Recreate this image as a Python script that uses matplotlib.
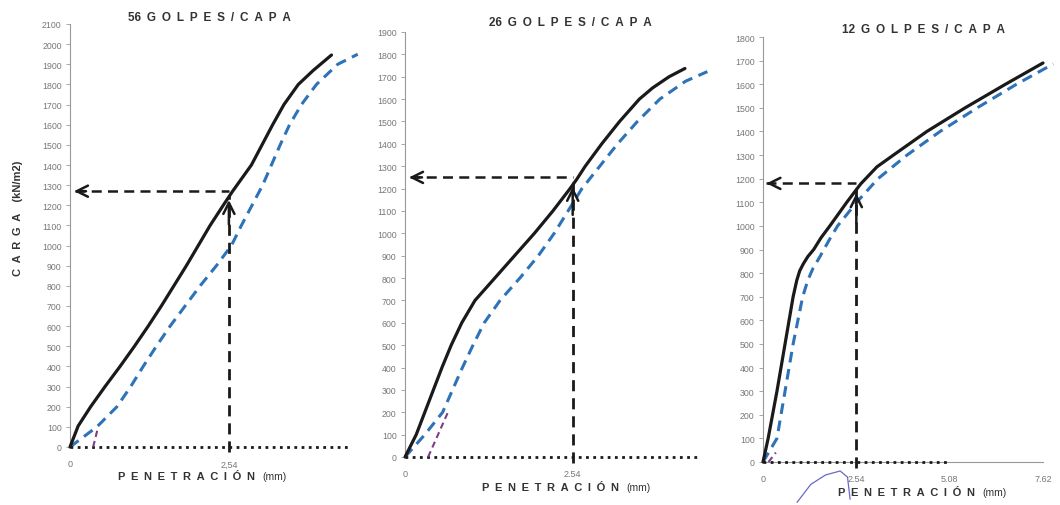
import matplotlib
matplotlib.use("Agg")
import matplotlib.pyplot as plt
import numpy as np

plt.rcParams['font.family'] = ['Liberation Sans', 'DejaVu Sans']

# ---- 56 golpes / capa ----
p56_pen = [0, 0.13, 0.33, 0.56, 0.80, 1.03, 1.25, 1.46, 1.66, 1.86, 2.05, 2.24, 2.45, 2.60,
           2.90, 3.07, 3.24, 3.42, 3.65, 3.89, 4.18]
p56_load = [0, 104, 200, 300, 400, 500, 600, 700, 800, 900, 1000, 1100, 1200, 1270,
            1400, 1500, 1600, 1700, 1800, 1870, 1946]
p56c_pen = [0, 0.43, 0.75, 0.97, 1.17, 1.38, 1.60, 1.84, 2.08, 2.34, 2.58, 2.74, 2.91, 3.08,
            3.22, 3.36, 3.51, 3.70, 3.94, 4.28, 4.60]
p56c_load = [0, 100, 200, 300, 400, 500, 600, 700, 800, 900, 1000, 1100, 1200, 1300,
             1400, 1500, 1600, 1700, 1800, 1900, 1950]
p56_adj_pen = [0.37, 0.45]
p56_adj_load = [0, 100]
p56_read = 1270

# ---- 26 golpes / capa ----
p26_pen = [0, 0.17, 0.30, 0.43, 0.56, 0.70, 0.86, 1.06, 1.36, 1.66, 1.96, 2.24, 2.50, 2.60,
           2.73, 2.98, 3.25, 3.55, 3.75, 4.00, 4.24]
p26_load = [0, 100, 200, 300, 400, 500, 600, 700, 800, 900, 1000, 1100, 1200, 1241,
            1300, 1400, 1500, 1600, 1650, 1700, 1737]
p26c_pen = [0, 0.30, 0.57, 0.72, 0.87, 1.03, 1.20, 1.44, 1.74, 2.02, 2.26, 2.47, 2.68, 2.95,
            3.22, 3.52, 3.86, 4.25, 4.58]
p26c_load = [0, 100, 200, 300, 400, 500, 600, 700, 800, 900, 1000, 1100, 1200, 1300,
             1400, 1500, 1600, 1680, 1723]
p26_adj_pen = [0.35, 0.65]
p26_adj_load = [0, 200]
p26_read = 1250

# ---- 12 golpes / capa ----
p12_pen = [0, 0.14, 0.38, 0.60, 0.82, 0.92, 1.00, 1.10, 1.22, 1.38, 1.58, 1.82, 2.28, 2.66,
           3.10, 3.55, 4.46, 5.50, 6.60, 7.62]
p12_load = [0, 100, 300, 500, 700, 770, 810, 840, 870, 900, 950, 1000, 1100, 1178,
            1250, 1300, 1400, 1500, 1600, 1690]
p12c_pen = [0, 0.38, 0.60, 0.82, 1.08, 1.22, 1.36, 1.55, 1.80, 2.03, 2.55, 3.13, 3.92, 4.82,
            5.83, 6.90, 7.90]
p12c_load = [0, 100, 300, 500, 700, 770, 820, 870, 940, 1000, 1100, 1200, 1300, 1400,
             1500, 1600, 1686]
p12_adj_pen = [0.15, 0.35]
p12_adj_load = [0, 40]
p12_read = 1180
p12_arc_pen = [0.93, 1.3, 1.7, 2.1, 2.3, 2.37]
p12_arc_load = [-170, -95, -55, -38, -64, -157]

SP = "\u2002"
titles = ["56" + SP + SP.join("GOLPES/CAPA"),
          "26" + SP + SP.join("GOLPES/CAPA"),
          "12" + SP + SP.join("GOLPES/CAPA")]
xlab_word = SP.join("PENETRACIÓN")
xlab_unit = "(mm)"
ylab = SP.join("CARGA") + SP + SP + "(kN/m2)"
ref_pen = 2.54

BLACK = "#1a1a1a"
BLUE = "#2e72b8"
PURPLE = "#7a3f86"
GRAY = "#777777"
TXT = "#333333"

fig = plt.figure(figsize=(10.6, 5.06), dpi=100)
W, H = 1060, 506


def make_axes(x0, x1, ybot, ytop):
    return fig.add_axes([x0 / W, (H - ybot) / H, (x1 - x0) / W, (ybot - ytop) / H])


ax1 = make_axes(70, 364, 448, 25)
ax2 = make_axes(405, 712, 458, 33)
ax3 = make_axes(763, 1043, 463, 38)

panels = [
    (ax1, p56_pen, p56_load, p56c_pen, p56c_load, p56_adj_pen, p56_adj_load, p56_read,
     (0, 4.7), 2100, ["0", "2,54"], [0, 2.54], 4.47),
    (ax2, p26_pen, p26_load, p26c_pen, p26c_load, p26_adj_pen, p26_adj_load, p26_read,
     (0, 4.65), 1900, ["0", "2.54"], [0, 2.54], 4.43),
    (ax3, p12_pen, p12_load, p12c_pen, p12c_load, p12_adj_pen, p12_adj_load, p12_read,
     (0, 7.62), 1800, ["0", "2.54", "5.08", "7.62"], [0, 2.54, 5.08, 7.62], 5.08),
]

for (ax, xs, ys, xc, yc, xa, ya, read, xlim, ymax, xtl, xt, dot_end) in panels:
    ax.set_xlim(*xlim)
    ax.set_ylim(0, ymax)
    for s in ("top", "right"):
        ax.spines[s].set_visible(False)
    ax.spines["left"].set_color("#999999")
    ax.spines["left"].set_linewidth(0.8)
    ax.spines["bottom"].set_visible(ax is ax3)
    ax.spines["bottom"].set_color("#999999")
    ax.spines["bottom"].set_linewidth(0.8)
    ax.set_yticks(np.arange(0, ymax + 1, 100))
    ax.set_xticks(xt)
    ax.set_xticklabels(xtl)
    ax.tick_params(axis="y", length=3, width=0.6, color="#999999", labelsize=6.3,
                   labelcolor=GRAY, pad=3)
    ax.tick_params(axis="x", length=0, labelsize=6.5, labelcolor=GRAY, pad=9)
    ax.patch.set_alpha(0)

    # dotted baseline
    ax.plot([0, dot_end], [0, 0], color=BLACK, lw=2.0, ls=(0, (1, 1.6)), clip_on=False,
            zorder=4)
    # curves
    ax.plot(xc, yc, color=BLUE, lw=2.2, ls=(0, (3.5, 2.2)), clip_on=False, zorder=3,
            solid_joinstyle="round", dash_joinstyle="round")
    ax.plot(xs, ys, color=BLACK, lw=2.3, clip_on=False, zorder=5,
            solid_joinstyle="round", solid_capstyle="round")
    ax.plot(xa, ya, color=PURPLE, lw=1.5, ls=(0, (3, 2)), clip_on=False, zorder=4)

    # reading at 2.54 mm
    ax.plot([ref_pen, ref_pen], [-25, read - 20], color=BLACK, lw=2.0,
            ls=(0, (4, 2.5)), clip_on=False, zorder=6)
    ax.plot([0.08, ref_pen], [read, read], color=BLACK, lw=1.8,
            ls=(0, (4, 2.5)), clip_on=False, zorder=6)
    ax.annotate("", xy=(0.02, read), xytext=(0.3, read),
                arrowprops=dict(arrowstyle="->", lw=1.8, color=BLACK, mutation_scale=20),
                annotation_clip=False, zorder=7)
    ax.annotate("", xy=(ref_pen, read - 30), xytext=(ref_pen, read - 180),
                arrowprops=dict(arrowstyle="->", lw=1.8, color=BLACK, mutation_scale=20),
                annotation_clip=False, zorder=7)

# stray pen stroke under the third panel
ax3.plot(p12_arc_pen, p12_arc_load, color="#6b68c8", lw=0.9, clip_on=False, zorder=2)

# titles
for (cx, cy), t in zip([(209, 18), (570, 23), (924, 30)], titles):
    fig.text(cx / W, 1 - cy / H, t, ha="center", va="center", fontsize=8.5,
             fontweight="bold", color=TXT)

# axis labels: spaced bold word followed by the unit in regular weight
for cx, cy in [(202, 477), (566, 488), (922, 493)]:
    fig.text((cx + 53) / W, 1 - cy / H, xlab_word, ha="right", va="center", fontsize=8,
             fontweight="bold", color=TXT)
    fig.text((cx + 60) / W, 1 - cy / H, xlab_unit, ha="left", va="center", fontsize=7.5,
             color=TXT)
fig.text(18 / W, 1 - 218 / H, ylab, ha="center", va="center",
         rotation=90, fontsize=8, fontweight="bold", color=TXT)

fig.savefig("out.png", dpi=100)
